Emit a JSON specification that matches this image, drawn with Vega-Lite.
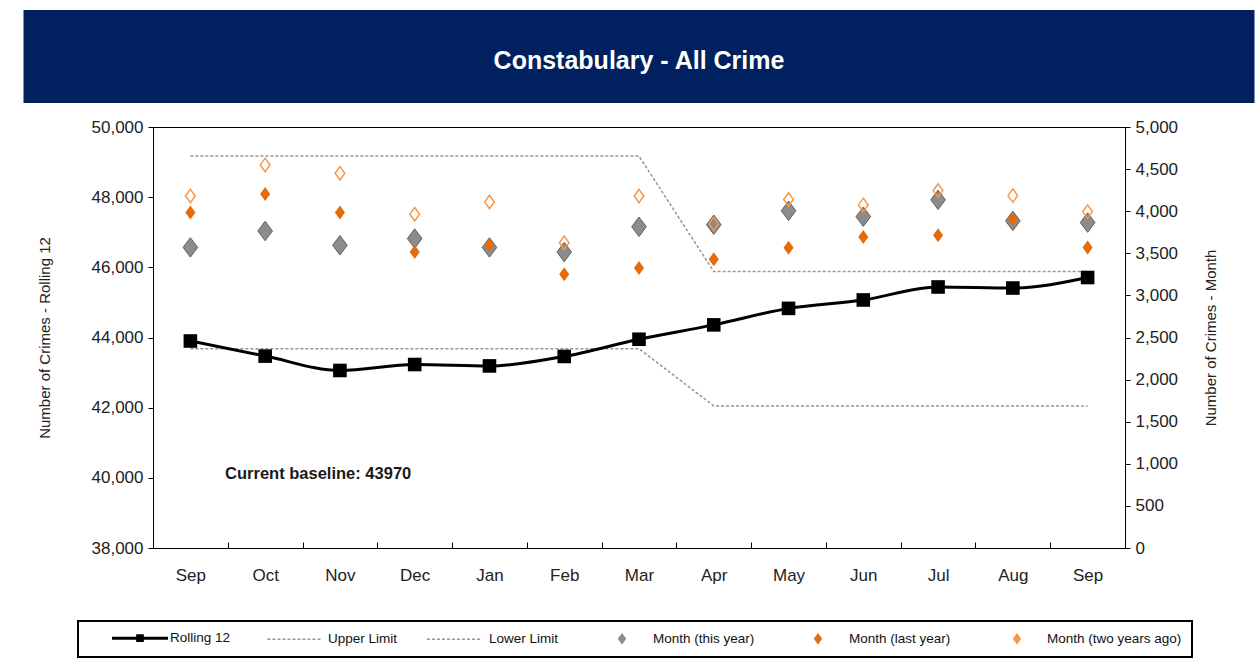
{
  "$schema": "https://vega.github.io/schema/vega-lite/v6.json",
  "background": "white",
  "padding": {"left": 23.5, "top": 10, "right": 0, "bottom": 0},
  "center": true,
  "bounds": "flush",
  "spacing": 24,
  "config": {
    "font": "Liberation Sans",
    "view": {"stroke": null}
  },
  "datasets": {
    "banner": [{"title": "Constabulary - All Crime"}],
    "rolling": [
      {"m": "Sep1", "v": 43900}, {"m": "Oct", "v": 43470}, {"m": "Nov", "v": 43060},
      {"m": "Dec", "v": 43230}, {"m": "Jan", "v": 43190}, {"m": "Feb", "v": 43460},
      {"m": "Mar", "v": 43950}, {"m": "Apr", "v": 44360}, {"m": "May", "v": 44830},
      {"m": "Jun", "v": 45070}, {"m": "Jul", "v": 45440}, {"m": "Aug", "v": 45410},
      {"m": "Sep2", "v": 45710}
    ],
    "limits": [
      {"m": "Sep1", "series": "Upper Limit", "v": 49170}, {"m": "Oct", "series": "Upper Limit", "v": 49170},
      {"m": "Nov", "series": "Upper Limit", "v": 49170}, {"m": "Dec", "series": "Upper Limit", "v": 49170},
      {"m": "Jan", "series": "Upper Limit", "v": 49170}, {"m": "Feb", "series": "Upper Limit", "v": 49170},
      {"m": "Mar", "series": "Upper Limit", "v": 49170}, {"m": "Apr", "series": "Upper Limit", "v": 45880},
      {"m": "May", "series": "Upper Limit", "v": 45880}, {"m": "Jun", "series": "Upper Limit", "v": 45880},
      {"m": "Jul", "series": "Upper Limit", "v": 45880}, {"m": "Aug", "series": "Upper Limit", "v": 45880},
      {"m": "Sep2", "series": "Upper Limit", "v": 45880},
      {"m": "Sep1", "series": "Lower Limit", "v": 43680}, {"m": "Oct", "series": "Lower Limit", "v": 43680},
      {"m": "Nov", "series": "Lower Limit", "v": 43680}, {"m": "Dec", "series": "Lower Limit", "v": 43680},
      {"m": "Jan", "series": "Lower Limit", "v": 43680}, {"m": "Feb", "series": "Lower Limit", "v": 43680},
      {"m": "Mar", "series": "Lower Limit", "v": 43680}, {"m": "Apr", "series": "Lower Limit", "v": 42050},
      {"m": "May", "series": "Lower Limit", "v": 42050}, {"m": "Jun", "series": "Lower Limit", "v": 42050},
      {"m": "Jul", "series": "Lower Limit", "v": 42050}, {"m": "Aug", "series": "Lower Limit", "v": 42050},
      {"m": "Sep2", "series": "Lower Limit", "v": 42050}
    ],
    "note": [{"m": "Oct", "v": 40110, "label": "Current baseline: 43970"}],
    "monthly": [
      {"m": "Sep1", "series": "Month (this year)", "v": 3570}, {"m": "Oct", "series": "Month (this year)", "v": 3765},
      {"m": "Nov", "series": "Month (this year)", "v": 3595}, {"m": "Dec", "series": "Month (this year)", "v": 3675},
      {"m": "Jan", "series": "Month (this year)", "v": 3570}, {"m": "Feb", "series": "Month (this year)", "v": 3515},
      {"m": "Mar", "series": "Month (this year)", "v": 3815}, {"m": "Apr", "series": "Month (this year)", "v": 3840},
      {"m": "May", "series": "Month (this year)", "v": 4005}, {"m": "Jun", "series": "Month (this year)", "v": 3935},
      {"m": "Jul", "series": "Month (this year)", "v": 4135}, {"m": "Aug", "series": "Month (this year)", "v": 3885},
      {"m": "Sep2", "series": "Month (this year)", "v": 3865},
      {"m": "Sep1", "series": "Month (last year)", "v": 3985}, {"m": "Oct", "series": "Month (last year)", "v": 4205},
      {"m": "Nov", "series": "Month (last year)", "v": 3985}, {"m": "Dec", "series": "Month (last year)", "v": 3515},
      {"m": "Jan", "series": "Month (last year)", "v": 3595}, {"m": "Feb", "series": "Month (last year)", "v": 3250},
      {"m": "Mar", "series": "Month (last year)", "v": 3325}, {"m": "Apr", "series": "Month (last year)", "v": 3430},
      {"m": "May", "series": "Month (last year)", "v": 3565}, {"m": "Jun", "series": "Month (last year)", "v": 3695},
      {"m": "Jul", "series": "Month (last year)", "v": 3715}, {"m": "Aug", "series": "Month (last year)", "v": 3905},
      {"m": "Sep2", "series": "Month (last year)", "v": 3570},
      {"m": "Sep1", "series": "Month (two years ago)", "v": 4180}, {"m": "Oct", "series": "Month (two years ago)", "v": 4550},
      {"m": "Nov", "series": "Month (two years ago)", "v": 4450}, {"m": "Dec", "series": "Month (two years ago)", "v": 3965},
      {"m": "Jan", "series": "Month (two years ago)", "v": 4110}, {"m": "Feb", "series": "Month (two years ago)", "v": 3625},
      {"m": "Mar", "series": "Month (two years ago)", "v": 4180}, {"m": "Apr", "series": "Month (two years ago)", "v": 3850},
      {"m": "May", "series": "Month (two years ago)", "v": 4140}, {"m": "Jun", "series": "Month (two years ago)", "v": 4075},
      {"m": "Jul", "series": "Month (two years ago)", "v": 4245}, {"m": "Aug", "series": "Month (two years ago)", "v": 4185},
      {"m": "Sep2", "series": "Month (two years ago)", "v": 3995}
    ]
  },
  "vconcat": [
    {
      "width": 1231,
      "height": 93,
      "view": {"fill": "#002060", "stroke": null},
      "data": {"name": "banner"},
      "mark": {"type": "text", "fontSize": 25, "fontWeight": "bold", "color": "white", "baseline": "middle", "align": "center", "dy": 4},
      "encoding": {"text": {"field": "title"}}
    },
    {
      "width": 972,
      "height": 421,
      "view": {"stroke": "black", "strokeWidth": 1},
      "encoding": {
        "x": {
          "field": "m", "type": "nominal", "sort": null,
          "scale": {"type": "band", "paddingInner": 0, "paddingOuter": 0,
            "domain": ["Sep1", "Oct", "Nov", "Dec", "Jan", "Feb", "Mar", "Apr", "May", "Jun", "Jul", "Aug", "Sep2"]},
          "axis": {"title": null, "labelExpr": "datum.value ? substring(datum.value, 0, 3) : ''", "labelAngle": 0,
            "tickBand": "extent", "tickSize": -6, "labelPadding": 25, "labelFontSize": 17, "labelColor": "#222",
            "domainColor": "black", "tickColor": "black", "grid": false}
        }
      },
      "layer": [
        {
          "encoding": {
            "y": {"field": "v", "type": "quantitative",
              "scale": {"domain": [38000, 50000], "nice": false, "zero": false},
              "axis": {"orient": "left", "title": "Number of Crimes - Rolling 12",
                "values": [38000, 40000, 42000, 44000, 46000, 48000, 50000], "format": ",.0f",
                "tickSize": 5, "labelPadding": 5, "labelFontSize": 17, "labelColor": "#222",
                "titleFontSize": 15, "titleFontWeight": "normal", "titleColor": "#222",
                "titlePadding": 39, "domainColor": "black", "tickColor": "black", "grid": false}
            }
          },
          "layer": [
            {
              "data": {"name": "limits"},
              "mark": {"type": "line", "color": "#969696", "strokeWidth": 1.5, "strokeDash": [3, 2]},
              "encoding": {"detail": {"field": "series"}}
            },
            {
              "data": {"name": "rolling"},
              "mark": {"type": "line", "color": "black", "strokeWidth": 3, "interpolate": "monotone"},
              "encoding": {}
            },
            {
              "data": {"name": "rolling"},
              "mark": {"type": "point", "shape": "square", "filled": true, "color": "black", "size": 185, "opacity": 1},
              "encoding": {}
            },
            {
              "data": {"name": "note"},
              "mark": {"type": "text", "fontSize": 16.5, "fontWeight": "bold", "color": "#1a1a1a", "align": "center", "baseline": "middle", "dx": 53},
              "encoding": {"text": {"field": "label"}}
            }
          ]
        },
        {
          "data": {"name": "monthly"},
          "encoding": {
            "y": {"field": "v", "type": "quantitative",
              "scale": {"domain": [0, 5000], "nice": false},
              "axis": {"orient": "right", "title": "Number of Crimes - Month",
                "values": [0, 500, 1000, 1500, 2000, 2500, 3000, 3500, 4000, 4500, 5000], "format": ",.0f",
                "tickSize": 5, "labelPadding": 5, "labelFontSize": 17, "labelColor": "#222",
                "titleFontSize": 15, "titleFontWeight": "normal", "titleColor": "#222",
                "titleAngle": 270, "titlePadding": 41, "domainColor": "black", "tickColor": "black", "grid": false}
            },
            "color": {
              "field": "series", "type": "nominal",
              "scale": {
                "domain": ["Rolling 12", "Upper Limit", "Lower Limit", "Month (this year)", "Month (last year)", "Month (two years ago)"],
                "range": ["#000000", "#969696", "#969696", "#8C8C8C", "#E46C0A", "#F79646"]
              },
              "legend": {
                "title": null, "orient": "none", "legendX": 54.5, "legendY": 611, "direction": "horizontal",
                "strokeColor": "black", "fillColor": "white", "padding": 10, "cornerRadius": 0,
                "symbolSize": 2209, "labelOffset": 15, "columnPadding": 5, "labelFontSize": 13.5, "labelColor": "#111",
                "symbolOpacity": 1,
                "encode": {
                  "legend": {"update": {"strokeWidth": {"value": 2}}},
                  "entries": {"update": {"width": {"signal": "datum.value === 'Month (two years ago)' ? 242 : 0"}}},
                  "labels": {"update": {"x": {"signal": "datum.value === 'Rolling 12' ? 82 : datum.value === 'Upper Limit' ? 92 : datum.value === 'Lower Limit' ? 86 : datum.value === 'Month (two years ago)' ? 91 : 89"}}},
                  "symbols": {
                    "update": {
                      "x": {"signal": "datum.value === 'Rolling 12' ? 52 : datum.value === 'Lower Limit' ? 50.5 : datum.value === 'Month (two years ago)' ? 61 : 58"},
                      "size": {"value": 2209},
                      "shape": {"signal": "datum.value === 'Rolling 12' ? 'M-1.19,0H1.19M-0.1,-0.1H0.1V0.1H-0.1Z' : (datum.value === 'Upper Limit' || datum.value === 'Lower Limit') ? 'M-1.13,0H1.13' : 'M0,-0.22L0.16,0L0,0.22L-0.16,0Z'"},
                      "fill": {"signal": "datum.value === 'Rolling 12' ? 'black' : datum.value === 'Month (this year)' ? '#8C8C8C' : datum.value === 'Month (last year)' ? '#E46C0A' : 'transparent'"},
                      "stroke": {"signal": "datum.value === 'Rolling 12' ? 'black' : datum.value === 'Month (this year)' ? '#6E6E6E' : datum.value === 'Month (last year)' ? '#E46C0A' : datum.value === 'Month (two years ago)' ? '#F79646' : '#969696'"},
                      "strokeWidth": {"signal": "datum.value === 'Rolling 12' ? 3 : (datum.value === 'Upper Limit' || datum.value === 'Lower Limit') ? 1.5 : 1"},
                      "strokeDash": {"signal": "(datum.value === 'Upper Limit' || datum.value === 'Lower Limit') ? [3, 2] : [1, 0]"},
                      "opacity": {"value": 1}
                    }
                  }
                }
              }
            }
          },
          "layer": [
            {
              "transform": [{"filter": "datum.series === 'Month (this year)'"}],
              "mark": {"type": "point", "shape": "M0,-1L0.75,0L0,1L-0.75,0Z", "filled": true, "size": 380, "opacity": 1, "stroke": "#5F5F5F", "strokeWidth": 1}
            },
            {
              "transform": [{"filter": "datum.series === 'Month (last year)'"}],
              "mark": {"type": "point", "shape": "M0,-1L0.72,0L0,1L-0.72,0Z", "filled": true, "size": 196, "opacity": 1}
            },
            {
              "transform": [{"filter": "datum.series === 'Month (two years ago)'"}],
              "mark": {"type": "point", "shape": "M0,-1L0.72,0L0,1L-0.72,0Z", "filled": false, "size": 180, "opacity": 1, "strokeWidth": 1.5}
            }
          ]
        }
      ],
      "resolve": {"scale": {"y": "independent"}, "axis": {"y": "independent"}}
    }
  ]
}
